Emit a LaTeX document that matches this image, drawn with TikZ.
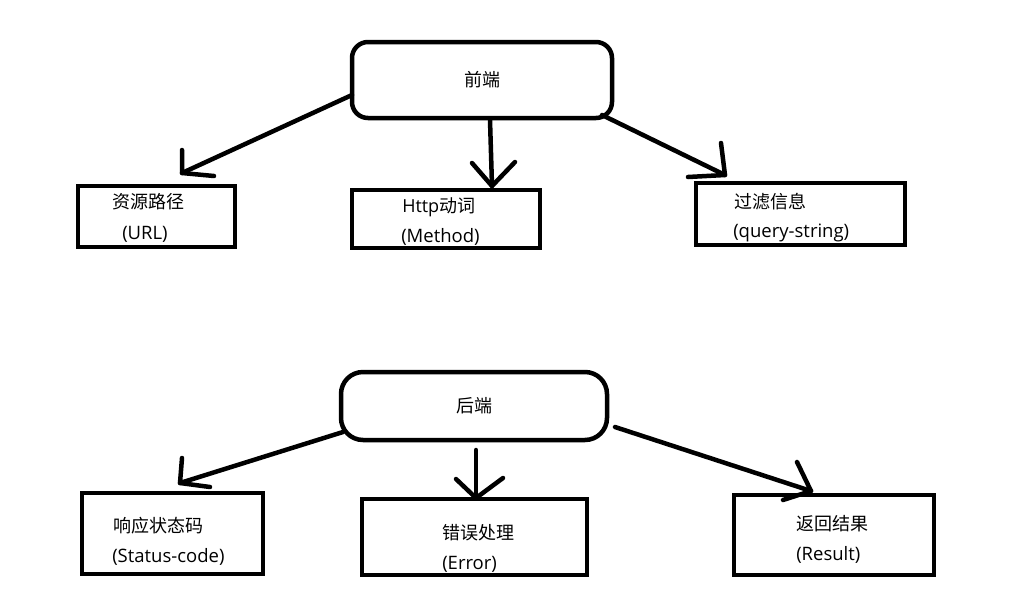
\documentclass[tikz,border=0pt]{standalone}
\usepackage{fontspec}
\setmainfont{Open Sans}
\newfontfamily\cjk{Noto Sans CJK SC}
\usetikzlibrary{calc}
\begin{document}
\begin{tikzpicture}[x=1pt,y=-1pt,
  line width=4.5pt, line cap=round, line join=round,
  box/.style={draw, line width=4.5pt, inner sep=0pt, outer sep=0pt, anchor=north west, line cap=butt, line join=miter},
  hub/.style={draw, line width=4.5pt, inner sep=0pt, outer sep=0pt, font=\cjk\fontsize{18}{21}\selectfont},
  lbl/.style={anchor=west, inner sep=0pt, font=\fontsize{18.5}{21}\selectfont},
  clbl/.style={anchor=west, inner sep=0pt, font=\cjk\fontsize{18}{21}\selectfont}]
\useasboundingbox (0,0) rectangle (1027,603);

% hubs
\node[hub, rounded corners=16pt, minimum width=260pt, minimum height=76pt] (fe) at (482,80) {前端};
\node[hub, rounded corners=22pt, minimum width=266pt, minimum height=68pt] (be) at (474,406) {\raisebox{-3pt}{后端}};

% top boxes
\node[box, minimum width=157pt, minimum height=61pt] (url) at (78,186) {};
\node[clbl] (urlA) at (110,202) {资源路径};
\node[lbl] (urlB) at (120,234) {(URL)};

\node[box, minimum width=188pt, minimum height=58pt] (http) at (352,190) {};
\node[clbl] (httpA) at (400,207) {\fontspec{Open Sans}Http\cjk 动词};
\node[lbl] (httpB) at (399,237) {(Method)};

\node[box, minimum width=209pt, minimum height=62pt] (qs) at (696,183) {};
\node[clbl] (qsA) at (732,202) {过滤信息};
\node[lbl] (qsB) at (731,233) {(query-string)};

% bottom boxes
\node[box, minimum width=181pt, minimum height=81pt] (sc) at (82,493) {};
\node[clbl] (scA) at (111,526) {响应状态码};
\node[lbl] (scB) at (110,557) {(Status-code)};

\node[box, minimum width=225pt, minimum height=76pt] (err) at (362,499) {};
\node[clbl] (errA) at (440,533) {错误处理};
\node[lbl] (errB) at (440,564) {(Error)};

\node[box, minimum width=200pt, minimum height=80pt] (res) at (734,495) {};
\node[clbl] (resA) at (794,524) {返回结果};
\node[lbl] (resB) at (794,555) {(Result)};

% arrow end points
\coordinate (t1) at (182,173);
\coordinate (t2) at (492,186);
\coordinate (t3) at (725,175);
\coordinate (t4) at (180,483);
\coordinate (t5) at (476,498);
\coordinate (t6) at (811,491);

% top arrows
\draw ($(fe.west)+(0,15)$) -- (t1);
\draw (182,150) -- (t1) -- (214,176);
\draw ($(fe.south)+(8,2)$) -- (t2);
\draw (472,163) -- (t2) -- (515,162);
\draw ($(fe.south east)+(-10,-3)$) -- (t3);
\draw (721,143) -- (t3) -- (688,177);

% bottom arrows
\draw ($(be.south west)+(2,-8)$) -- (t4);
\draw (182,458) -- (t4) -- (210,487);
\draw ($(be.south)+(2,10)$) -- (t5);
\draw (456,479) -- (t5) -- (503,478);
\draw ($(be.east)+(8,21)$) -- (t6);
\draw (797,462) -- (t6) -- (783,500);
\end{tikzpicture}
\end{document}
